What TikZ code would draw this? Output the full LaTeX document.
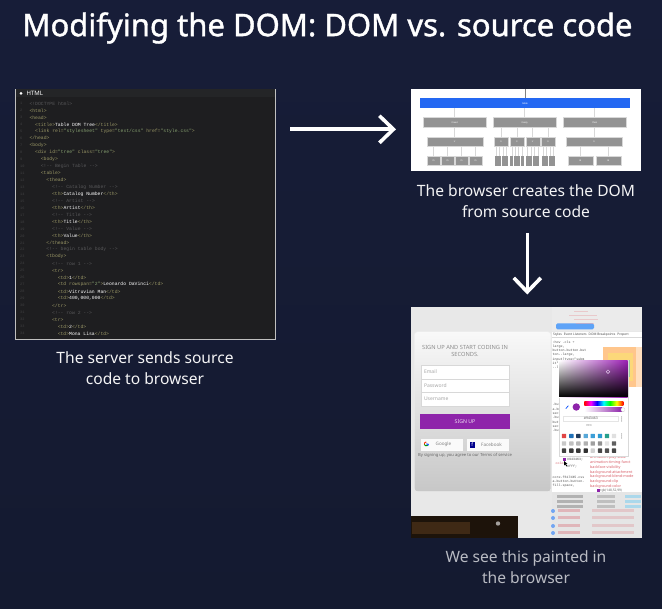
\documentclass[tikz,border=0pt]{standalone}
\usepackage{fontspec}
\usepackage{tikz}
\usetikzlibrary{arrows.meta, positioning, fadings}
\setmainfont{Noto Sans}
\newfontfamily\titlefont[FakeBold=1.3]{Noto Sans}
\newfontfamily\codefont{Liberation Mono}
\definecolor{bgtop}{HTML}{171D38}
\definecolor{bgbottom}{HTML}{141A30}
\definecolor{codebg}{HTML}{1E1E20}
\definecolor{codehead}{HTML}{242527}
\definecolor{tagcol}{HTML}{9A9766}
\definecolor{valcol}{HTML}{86A070}
\definecolor{cmtcol}{HTML}{58585A}
\definecolor{boxgrey}{HTML}{939393}
\definecolor{linegrey}{HTML}{D8D8D8}
\definecolor{domblue}{HTML}{2468F2}
\definecolor{signpurple}{HTML}{8E24AA}
\definecolor{redcss}{HTML}{D9606A}
\newcommand{\codetag}[1]{\textcolor{tagcol}{#1}}
\newcommand{\codeval}[1]{\textcolor{valcol}{#1}}
\newcommand{\codecmt}[1]{\textcolor{cmtcol}{#1}}
\tikzset{
  caption/.style={text=white!95!bgtop, font=\fontsize{15.6}{21}\selectfont, align=center},
  flowarrow/.style={draw=white, line width=3.6pt, -{Straight Barb[length=14pt, width=27pt, line width=3.6pt]}},
  codeline/.style={anchor=west, inner sep=0pt, text=white, font=\codefont\fontsize{4.75}{5}\selectfont},
  treebox/.style={fill=boxgrey, draw=linegrey, line width=0.4pt, inner sep=0pt, text=white, font=\fontsize{2.2}{3}\selectfont},
  treeline/.style={draw=linegrey, line width=0.6pt},
  field/.style={fill=white, draw=linegrey, line width=0.4pt, inner sep=2pt, minimum width=88.6pt, minimum height=13.6pt, anchor=center, text=gray!70, text width=82pt, font=\fontsize{5}{6}\selectfont},
  socialbtn/.style={fill=white!96!gray, inner sep=0pt, minimum width=42.6pt, minimum height=11.6pt, text=gray, font=\fontsize{4.6}{6}\selectfont},
  toolcode/.style={anchor=west, inner sep=0pt, text=black!70, font=\codefont\fontsize{3.3}{4}\selectfont},
  csspale/.style={anchor=west, inner sep=0pt, text=redcss, font=\fontsize{3.7}{5}\selectfont},
  swatch/.style={minimum size=4.4pt, inner sep=0pt, rounded corners=0.6pt},
}
\begin{document}
\begin{tikzpicture}[x=1pt, y=-1pt]
  \useasboundingbox (0,0) rectangle (662,609);
  \shade[top color=bgtop, bottom color=bgbottom] (0,0) rectangle (662,609);
  \node[text=white, font=\titlefont\fontsize{31}{36}\selectfont, inner sep=0pt] (title) at (327.5,28) {Modifying the DOM: DOM vs. source code};

  % source code panel
  \node[draw=white!75!black, fill=codebg, line width=0.6pt, minimum width=260pt, minimum height=250pt, inner sep=0pt] (codepanel) at (145,214) {};
  \fill[codehead] (15.5,89.5) rectangle (274.5,97.5);
  \fill[white] (21,93.5) circle (1.5pt);
  \node[codeline, font=\fontsize{6}{7}\selectfont] (codetitle) at (26.5,93.6) {HTML};
  \foreach \lnum/\lind/\ltxt in {
    1/0/{\codecmt{<!DOCTYPE html>}},
    2/0/{\codetag{<html>}},
    3/0/{\codetag{<head>}},
    4/1/{\codetag{<title>}Table DOM Tree\codetag{</title>}},
    5/1/{\codetag{<link rel=}\codeval{"stylesheet"} \codetag{type=}\codeval{"text/css"} \codetag{href=}\codeval{"style.css"}\codetag{>}},
    6/0/{\codetag{</head>}},
    7/0/{\codetag{<body>}},
    8/1/{\codetag{<div id=}\codeval{"tree"} \codetag{class=}\codeval{"tree"}\codetag{>}},
    9/2/{\codetag{<body>}},
    10/2/{\codecmt{<!-- Begin Table -->}},
    11/2/{\codetag{<table>}},
    12/3/{\codetag{<thead>}},
    13/4/{\codecmt{<!-- Catalog Number -->}},
    14/4/{\codetag{<th>}Catalog Number\codetag{</th>}},
    15/4/{\codecmt{<!-- Artist -->}},
    16/4/{\codetag{<th>}Artist\codetag{</th>}},
    17/4/{\codecmt{<!-- Title -->}},
    18/4/{\codetag{<th>}Title\codetag{</th>}},
    19/4/{\codecmt{<!-- Value -->}},
    20/4/{\codetag{<th>}Value\codetag{</th>}},
    21/3/{\codetag{</thead>}},
    22/3/{\codecmt{<!-- begin table body -->}},
    23/3/{\codetag{<tbody>}},
    24/4/{\codecmt{<!-- row 1 -->}},
    25/4/{\codetag{<tr>}},
    26/5/{\codetag{<td>}1\codetag{</td>}},
    27/5/{\codetag{<td rowspan=}\codeval{"2"}\codetag{>}Leonardo DaVinci\codetag{</td>}},
    28/5/{\codetag{<td>}Vitruvian Man\codetag{</td>}},
    29/5/{\codetag{<td>}400,000,000\codetag{</td>}},
    30/4/{\codetag{</tr>}},
    31/4/{\codecmt{<!-- row 2 -->}},
    32/4/{\codetag{<tr>}},
    33/5/{\codetag{<td>}2\codetag{</td>}},
    34/5/{\codetag{<td>}Mona Lisa\codetag{</td>}}} {
    \node[codeline, text=cmtcol!60!codebg, font=\codefont\fontsize{3.6}{4}\selectfont] (num\lnum) at (20,{103.4+(\lnum-1)*6.97}) {\lnum};
    \node[codeline] (line\lnum) at ({29.3+\lind*5.65},{103.4+(\lnum-1)*6.97}) {\ltxt};
  }
  \node[caption] (codecap) at (145,368.5) {The server sends source\\code to browser};

  % dom tree panel
  \node[fill=white, minimum width=230pt, minimum height=82pt, inner sep=0pt] (treepanel) at (526,130) {};
  \node[fill=domblue, inner sep=0pt, minimum width=210pt, minimum height=10pt, text=white, font=\fontsize{2.4}{3}\selectfont] (tabletop) at (525,103.3) {table};
  \coordinate (stem) at (525.3,89);
  \draw[line width=0.6pt, draw=gray] (stem) -- (stem |- tabletop.north);
  \foreach \bname/\bx/\btxt in {theadbox/454.7/thead, tbodybox/524.7/tbody, tfootbox/594.7/tfoot} {
    \node[treebox, minimum width=62.7pt, minimum height=9.6pt] (\bname) at (\bx,122.5) {\btxt};
    \draw[treeline] (\bname.north) -- (\bname.north |- tabletop.south);
  }
  \foreach \bname/\bx/\bw/\bup in {trone/454.7/56/theadbox, trtwo/501.3/14/tbodybox, trthree/517/14/tbodybox, trfour/532.7/14/tbodybox, trfive/548.3/14/tbodybox, trsix/594.3/56/tfootbox} {
    \node[treebox, minimum width=\bw pt, minimum height=9.3pt] (\bname) at (\bx,141.7) {tr};
    \draw[treeline] (\bname.north) -- (\bname.north |- \bup.south);
  }
  \foreach \bname/\bx/\bw/\bup/\btxt in {thone/433.7/12.7/trone/th, thtwo/447.7/12.7/trone/th, ththree/461.7/12.7/trone/th, thfour/475.7/12.7/trone/th, tdleft/580.2/25/trsix/td, tdright/608.2/25/trsix/td} {
    \node[treebox, minimum width=\bw pt, minimum height=9.4pt] (\bname) at (\bx,161) {\btxt};
    \draw[treeline] (\bname.north) -- (\bname.north |- \bup.south);
  }
  \foreach \grp/\gx/\gup in {a/494.3/trtwo, b/510/trthree, c/525.7/trfour, d/541.3/trfive} {
    \foreach \cnum in {0,1,2,3} {
      \node[treebox, minimum width=3pt, minimum height=4.4pt, draw=none] (td\grp\cnum) at ({\gx+1.8+\cnum*3.45},158.6) {};
      \node[treebox, minimum width=3pt, minimum height=4.4pt, draw=none] (tf\grp\cnum) at ({\gx+1.8+\cnum*3.45},163.4) {};
      \draw[treeline] (td\grp\cnum.north) -- (td\grp\cnum.north |- \gup.south);
    }
  }
  \node[caption] (treecap) at (526,201.5) {The browser creates the DOM\\from source code};

  % painted page panel
  \node[fill=black!9, minimum width=231pt, minimum height=231pt, inner sep=0pt] (pagepanel) at (526.2,422.8) {};
  \fill[white!92!black] (552,307.5) rectangle (641.7,331);
  \fill[white] (552,332) rectangle (641.7,491.7);
  \fill[black!10] (552,491.7) rectangle (641.7,538.3);
  \fill[blue!55!cyan, opacity=0.6, rounded corners=1.5pt] (556,323.3) rectangle (594,329.3);
  \foreach \tx/\ty/\tw in {574/311/14, 569/315/28, 574/319/24, 576/323/18} {
    \draw[redcss!60, line width=0.7pt, opacity=0.45] (\tx,\ty) -- ++(\tw,0);
  }
  \shade[top color=white!95!gray, bottom color=black!22, rounded corners=3pt, draw=white!85!gray, line width=0.6pt] (414.3,331.7) rectangle (551,491.7);
  \fill[black!85!brown] (410.7,516) rectangle (517.7,538.3);
  \fill[brown!60!black, opacity=0.4] (412,522) rectangle (470,534);
  \fill[white, opacity=0.6] (498,523.5) circle (2.2pt);
  \node[text=black!45, align=center, font=\fontsize{5.7}{7}\selectfont, inner sep=0pt] (signhead) at (465,350.5) {SIGN UP AND START CODING IN\\SECONDS.};
  \node[field] (email) at (465,372) {Email};
  \node[field, below=-0.4pt of email] (password) {Password};
  \node[field, below=-0.4pt of password] (username) {Username};
  \node[fill=signpurple, text=white!85!signpurple, inner sep=0pt, minimum width=90pt, minimum height=15pt, font=\fontsize{5.2}{6}\selectfont] (signup) at (465,421.8) {SIGN UP};
  \node[socialbtn] (google) at (442,444.8) {\hspace{3pt}Google};
  \node[socialbtn] (facebook) at (488,444.8) {\hspace{7pt}Facebook};
  \node[fill=blue!55!black, text=white, inner sep=0pt, minimum width=5.5pt, minimum height=5.8pt, font=\fontsize{5}{5}\selectfont] (fbicon) at (472.3,444.8) {f};
  \draw[red!70!orange, line width=0.9pt] (426.3,441.9) arc (90:200:2pt);
  \draw[green!60!black, line width=0.9pt] (424.4,444.5) arc (200:320:2pt);
  \draw[blue!70!cyan, line width=0.9pt] (427.8,445.6) arc (320:360:2pt) -- (426.3,443.9);
  \node[text=black!60, inner sep=0pt, font=\fontsize{4.15}{5}\selectfont] (terms) at (465,455.3) {By signing up, you agree to our Terms of service};

  \node[anchor=west, inner sep=0pt, text=black!70, font=\fontsize{3.2}{4}\selectfont] (tabs) at (553,334.5) {Styles\hspace{2pt}Event Listeners\hspace{2pt}DOM Breakpoints\hspace{2pt}Propert};
  \draw[black!15, line width=0.4pt] (552,337.7) -- (641.7,337.7);
  \foreach \tnum/\ttxt in {0/{:hov .cls +}, 1/{large,}, 2/{button.button.but}, 3/{ton--large,}, 4/{input[type="subm}, 5/{it"],}, 6/{--large \{}} {
    \node[toolcode] (tool\tnum) at (552.5,{342+\tnum*4.3}) {\ttxt};
  }
  \foreach \tnum/\ttxt in {0/{.button,}, 1/{a.button,}, 2/{section}, 3/{.button,}, 4/{button,}, 5/{section}, 6/{.button,}} {
    \node[toolcode] (toolb\tnum) at (552.5,{405+\tnum*4.3}) {\ttxt};
  }
  \node[toolcode] (toolhex) at (567,459.5) {\#943463;};
  \node[toolcode, text=redcss] (toolcol) at (552.5,463.5) {\hspace{3pt}color};
  \node[toolcode] (toolfff) at (567,467) {\#fff;};
  \fill[signpurple] (563,457.8) rectangle (566,460.8);
  \node[toolcode] (toolurl) at (552.5,477) {core-f617d45.css};
  \node[toolcode] (toolbtn) at (552.5,481.5) {a.button.button-};
  \node[toolcode] (toolfil) at (552.5,486) {fill-space,};
  \foreach \tnum/\ttxt in {0/{animation-play-state}, 1/{animation-timing-funct}, 2/{backface-visibility}, 3/{background-attachment}, 4/{background-blend-mode}, 5/{background-clip}, 6/{\textbf{background-color}}} {
    \node[csspale] (css\tnum) at (590,{458+\tnum*4.75}) {\ttxt};
  }
  \node[csspale, text=black!60, font=\fontsize{3.2}{4}\selectfont] (cssval) at (597,491) {\textcolor{signpurple}{\rule{2.5pt}{2.5pt}}\,rgb(148,52,99)};
  \foreach \ty in {495,500,505} {
    \fill[black!30] (557,\ty) rectangle (583,\ty+3.5);
    \fill[black!25] (597,\ty) rectangle (615,\ty+3.5);
    \fill[blue!30!cyan, opacity=0.25] (625,\ty) rectangle (641,\ty+3.5);
  }
  \foreach \ty in {511,518,526,533} {
    \fill[blue!60!cyan, opacity=0.5] (553,\ty) circle (2pt);
    \fill[redcss, opacity=0.35] (558,\ty-2) rectangle (580,\ty+1);
    \fill[redcss, opacity=0.22] (592,\ty-2) rectangle (634,\ty+1);
  }
  \fill[orange!45] (603.3,346.7) rectangle (636,386.7);
  \fill[yellow!45!orange!50] (607.5,353) rectangle (633,381);
  \fill[green!35!gray!60] (611,360) rectangle (630,377);
  \fill[orange!25] (636,346.7) rectangle (641.7,386.7);

  % colour picker
  \fill[white, draw=black!15, line width=0.4pt] (558.7,360.7) rectangle (627.7,456);
  \shade[left color=white, right color=signpurple!90!magenta] (558.7,360.7) rectangle (627.7,397.3);
  \fill[black, path fading=north] (558.7,360.7) rectangle (627.7,397.3);
  \draw[white!80!signpurple, line width=0.4pt] (608,371.7) circle (1.8pt);
  \fill[blue!70!cyan] (565.5,408.5) -- (568,405.5) -- (568.5,406) -- (566,409) -- cycle;
  \fill[signpurple] (576.3,407) circle (3.7pt);
  \shade[left color=red, right color=blue, middle color=magenta] (584.3,401.7) rectangle (597,405.7);
  \shade[left color=blue, right color=green, middle color=cyan] (597,401.7) rectangle (610,405.7);
  \shade[left color=green, right color=red, middle color=yellow] (610,401.7) rectangle (623.3,405.7);
  \shade[left color=white, right color=signpurple] (584.3,408) rectangle (622,411.3);
  \fill[white, draw=black!20, line width=0.3pt] (623,409.7) circle (2pt);
  \node[draw=black!10, fill=white, inner sep=0pt, minimum width=55pt, minimum height=5.5pt, text=black!65, font=\fontsize{3.4}{4}\selectfont] (hexbox) at (590.8,418.5) {\#943463};
  \node[inner sep=0pt, text=black!50, font=\fontsize{2.8}{3}\selectfont] (hexlabel) at (589,425.5) {HEX};
  \foreach \tx/\tcol in {564/E04545, 571.3/1E70B8, 578.3/203A5A, 585.7/58A8D8, 592.7/3D9FD8, 600/2B9AD0, 607/26A08C, 614/E0E0E0} {
    \definecolor{swc}{HTML}{\tcol}
    \node[swatch, fill=swc] (swa\tx) at (\tx,436) {};
  }
  \foreach \tx/\tcol in {564/C8C8C8, 571.3/C0C0C0, 578.3/B8B8B8, 585.7/B0B0B0, 592.7/A0A0A0, 600/909090, 607/E4E4E4, 614/606060} {
    \definecolor{swc}{HTML}{\tcol}
    \node[swatch, fill=swc] (swb\tx) at (\tx,443.5) {};
  }
  \foreach \tx/\tcol in {564/404040, 571.3/3A3A3A, 578.3/383838, 585.7/303030, 592.7/D0D0D0, 600/484848, 607/505050, 614/454545} {
    \definecolor{swc}{HTML}{\tcol}
    \node[swatch, fill=swc] (swc\tx) at (\tx,450.7) {};
  }
  \foreach \ty in {417,419,421,434,436,438} {
    \fill[black!60] (621.7,\ty) circle (0.5pt);
  }
  \fill[black] (564,461) -- (564,465.5) -- (565.2,464.5) -- (566.5,466.5) -- (567.2,466) -- (566,464) -- (567.5,464) -- cycle;
  \node[caption, text=white!70!bgtop] (pagecap) at (526,567.5) {We see this painted in\\the browser};

  \coordinate (sendstart) at (290,129.3);
  \coordinate (sendend) at (396,129.3);
  \coordinate (paintstart) at (527.3,233);
  \coordinate (paintend) at (527.3,294.5);
  \draw[flowarrow] (sendstart) -- (sendend);
  \draw[flowarrow] (paintstart) -- (paintend);
\end{tikzpicture}
\end{document}
